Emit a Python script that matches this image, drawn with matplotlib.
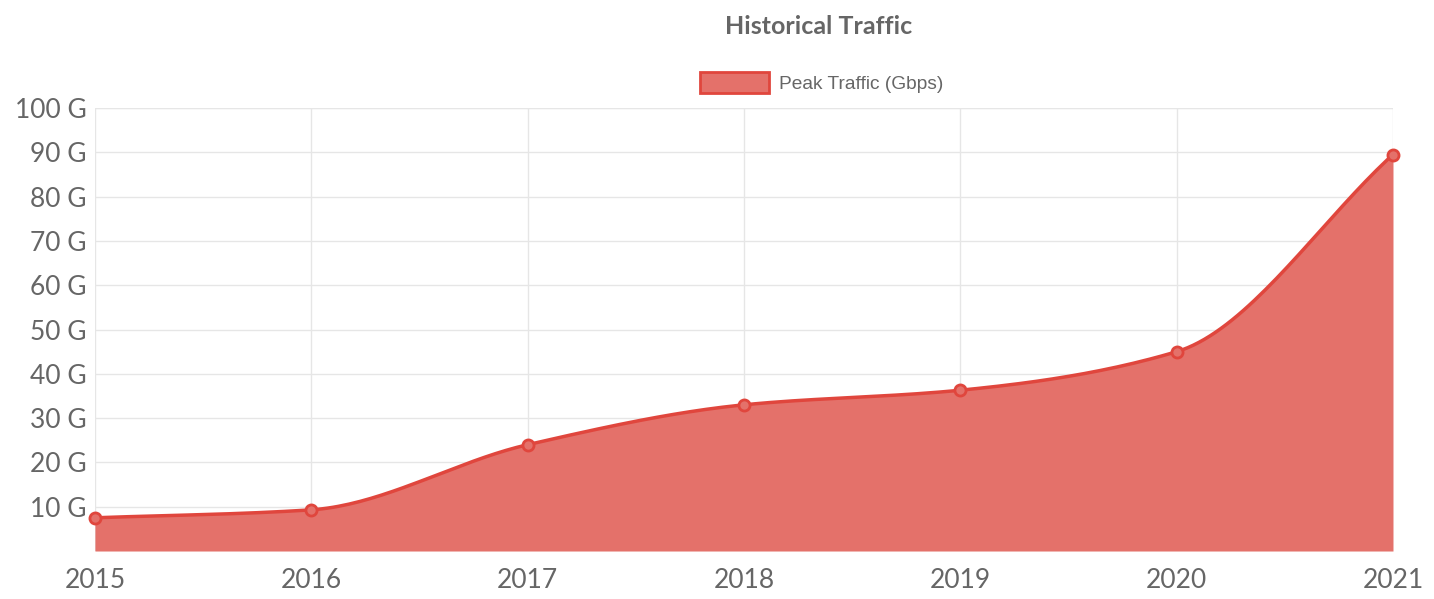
import numpy as np
import matplotlib.pyplot as plt
from matplotlib.patches import Patch

years = [2015, 2016, 2017, 2018, 2019, 2020, 2021]
peak_gbps = [7.5, 9.3, 24.0, 33.0, 36.3, 45.0, 89.5]
y_ticks = [10, 20, 30, 40, 50, 60, 70, 80, 90, 100]


def monotone_curve(x, y, n=40):
    # Fritsch-Carlson monotone cubic, like chart.js "monotone" mode
    x = np.asarray(x, float)
    y = np.asarray(y, float)
    h = np.diff(x)
    d = np.diff(y) / h
    m = np.zeros_like(y)
    m[0], m[-1] = d[0], d[-1]
    for i in range(1, len(y) - 1):
        if d[i - 1] * d[i] <= 0:
            m[i] = 0
        else:
            m[i] = 2 / (1 / d[i - 1] + 1 / d[i])
    xs, ys = [], []
    for i in range(len(h)):
        t = np.linspace(0, 1, n, endpoint=(i == len(h) - 1))
        h00 = 2 * t**3 - 3 * t**2 + 1
        h10 = t**3 - 2 * t**2 + t
        h01 = -2 * t**3 + 3 * t**2
        h11 = t**3 - t**2
        xs.append(x[i] + t * h[i])
        ys.append(h00 * y[i] + h10 * h[i] * m[i] + h01 * y[i + 1] + h11 * h[i] * m[i + 1])
    return np.concatenate(xs), np.concatenate(ys)


fill_col = '#e4716a'
line_col = '#e0463d'
text_col = '#666666'

fig = plt.figure(figsize=(14.34, 5.99), dpi=100)
ax = fig.add_axes([0.0662, 0.0801, 0.9052, 0.7396])

cx, cy = monotone_curve(years, peak_gbps)
ax.fill_between(cx, 0, cy, color=fill_col, linewidth=0, zorder=2)
ax.plot(cx, cy, color=line_col, linewidth=2.5, zorder=3)
ax.plot(years, peak_gbps, 'o', markersize=8, markerfacecolor=fill_col,
        markeredgecolor=line_col, markeredgewidth=2, zorder=4, clip_on=False)

ax.set_xlim(years[0], years[-1])
ax.set_ylim(0, 100)
ax.set_xticks(years)
ax.set_xticklabels([str(y) for y in years])
ax.set_yticks(y_ticks)
ax.set_yticklabels([f'{v} G' for v in y_ticks])
ax.tick_params(axis='both', length=0, labelsize=19, colors=text_col)
for lab in ax.get_xticklabels() + ax.get_yticklabels():
    lab.set_family('Lato')
ax.tick_params(axis='y', pad=6)
ax.tick_params(axis='x', pad=12)

ax.grid(True, color='#e6e6e6', linewidth=1, zorder=0)
for s in ax.spines.values():
    s.set_visible(False)
ax.axhline(100, color='#dddddd', linewidth=1.5, zorder=1)

fig.text(0.5711, 0.955, 'Historical Traffic', ha='center', va='center',
         fontsize=18, fontweight='bold', color=text_col, family='Lato')

handle = Patch(facecolor=fill_col, edgecolor=line_col, linewidth=2)
fig.legend([handle], ['Peak Traffic (Gbps)'], loc='center', bbox_to_anchor=(0.573, 0.862),
           frameon=False, handlelength=3.6, handleheight=1.3, handletextpad=0.5,
           prop={'family': 'Liberation Sans', 'size': 13.8}, labelcolor=text_col)

fig.savefig('out.png', dpi=100)
